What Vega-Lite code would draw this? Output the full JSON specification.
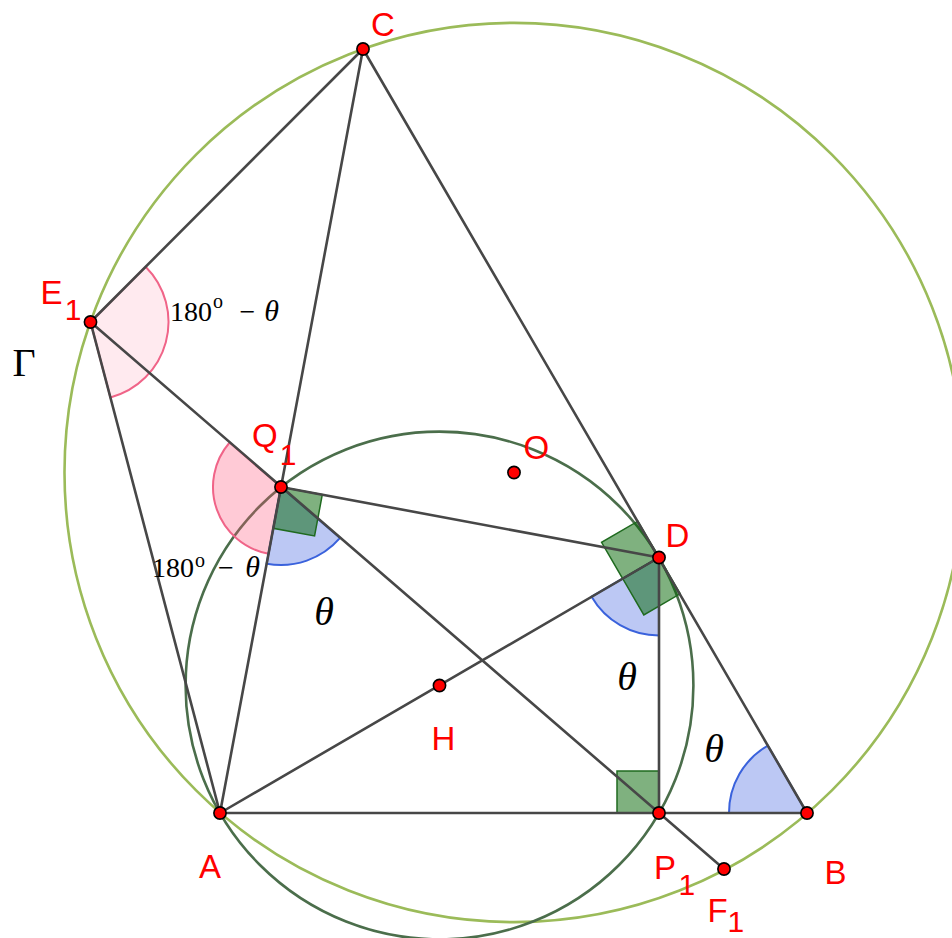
{
  "$schema": "https://vega.github.io/schema/vega-lite/v6.json",
  "width": 952,
  "height": 938,
  "autosize": "none",
  "padding": 0,
  "background": "white",
  "config": {"view": {"stroke": null}},
  "datasets": {
    "bigCircle": [{"x": 2.94, "y": 3.405, "r": 4.495}],
    "smallCircle": [{"x": 2.195, "y": 1.275, "r": 2.539}],
    "anglePinkLight": [{"x": -1.295, "y": 4.91, "t1": 44.95, "t2": 165.22}],
    "anglePink": [{"x": 0.61, "y": 3.26, "t1": 190.6, "t2": 310.9}],
    "angleBlue": [
      {"x": 0.61, "y": 3.26, "t1": 130.77, "t2": 190.6},
      {"x": 4.39, "y": 2.555, "t1": 180, "t2": 239.8},
      {"x": 5.87, "y": 0, "t1": 270, "t2": 329.84}
    ],
    "squares": [
      {"sq": "Q1", "i": 0, "x": 0.61, "y": 3.26},
      {"sq": "Q1", "i": 1, "x": 1.0229, "y": 3.183},
      {"sq": "Q1", "i": 2, "x": 0.9457, "y": 2.7702},
      {"sq": "Q1", "i": 3, "x": 0.5328, "y": 2.8472},
      {"sq": "D1", "i": 0, "x": 4.39, "y": 2.555},
      {"sq": "D1", "i": 1, "x": 4.1787, "y": 2.918},
      {"sq": "D1", "i": 2, "x": 3.8157, "y": 2.7067},
      {"sq": "D1", "i": 3, "x": 4.027, "y": 2.3437},
      {"sq": "D2", "i": 0, "x": 4.39, "y": 2.555},
      {"sq": "D2", "i": 1, "x": 4.6013, "y": 2.192},
      {"sq": "D2", "i": 2, "x": 4.2383, "y": 1.9807},
      {"sq": "D2", "i": 3, "x": 4.027, "y": 2.3437},
      {"sq": "P1", "i": 0, "x": 4.39, "y": 0},
      {"sq": "P1", "i": 1, "x": 3.97, "y": 0},
      {"sq": "P1", "i": 2, "x": 3.97, "y": 0.42},
      {"sq": "P1", "i": 3, "x": 4.39, "y": 0.42}
    ],
    "segments": [
      {"x": 0, "y": 0, "x2": 5.87, "y2": 0},
      {"x": 5.87, "y": 0, "x2": 1.43, "y2": 7.64},
      {"x": 1.43, "y": 7.64, "x2": 0, "y2": 0},
      {"x": 1.43, "y": 7.64, "x2": -1.295, "y2": 4.91},
      {"x": -1.295, "y": 4.91, "x2": 0, "y2": 0},
      {"x": -1.295, "y": 4.91, "x2": 5.04, "y2": -0.56},
      {"x": 0.61, "y": 3.26, "x2": 4.39, "y2": 2.555},
      {"x": 0, "y": 0, "x2": 4.39, "y2": 2.555},
      {"x": 4.39, "y": 2.555, "x2": 4.39, "y2": 0}
    ],
    "points": [
      {"name": "A", "x": 0, "y": 0},
      {"name": "B", "x": 5.87, "y": 0},
      {"name": "C", "x": 1.43, "y": 7.64},
      {"name": "D", "x": 4.39, "y": 2.555},
      {"name": "P1", "x": 4.39, "y": 0},
      {"name": "H", "x": 2.195, "y": 1.275},
      {"name": "Q1", "x": 0.61, "y": 3.26},
      {"name": "E1", "x": -1.295, "y": 4.91},
      {"name": "O", "x": 2.94, "y": 3.405},
      {"name": "F1", "x": 5.04, "y": -0.56}
    ],
    "letters": [
      {"t": "C", "x": 1.51, "y": 7.77},
      {"t": "E", "x": -1.795, "y": 5.09},
      {"t": "Q", "x": 0.32, "y": 3.66},
      {"t": "O", "x": 3.035, "y": 3.54},
      {"t": "D", "x": 4.455, "y": 2.66},
      {"t": "H", "x": 2.115, "y": 0.63},
      {"t": "A", "x": -0.21, "y": -0.65},
      {"t": "P", "x": 4.34, "y": -0.66},
      {"t": "B", "x": 6.045, "y": -0.71},
      {"t": "F", "x": 4.875, "y": -1.09}
    ],
    "subs": [
      {"t": "1", "x": -1.553, "y": 4.93},
      {"t": "1", "x": 0.597, "y": 3.48},
      {"t": "1", "x": 4.584, "y": -0.82},
      {"t": "1", "x": 5.074, "y": -1.19}
    ],
    "serifUpright": [
      {"t": "180", "x": -0.29, "y": 4.92},
      {"t": "−", "x": 0.275, "y": 4.92},
      {"t": "180", "x": -0.47, "y": 2.36},
      {"t": "−", "x": 0.06, "y": 2.36}
    ],
    "serifSup": [
      {"t": "o", "x": -0.02, "y": 5.05},
      {"t": "o", "x": -0.2, "y": 2.463}
    ],
    "thetaSmall": [
      {"t": "θ", "x": 0.515, "y": 4.92},
      {"t": "θ", "x": 0.325, "y": 2.36}
    ],
    "thetaBig": [
      {"t": "θ", "x": 1.04, "y": 1.88},
      {"t": "θ", "x": 4.07, "y": 1.23},
      {"t": "θ", "x": 4.94, "y": 0.513}
    ],
    "gamma": [{"t": "Γ", "x": -1.96, "y": 4.37}]
  },
  "encoding": {
    "x": {"field": "x", "type": "quantitative", "axis": null, "scale": {"domain": [-2.2, 7.32], "nice": false, "zero": false}},
    "y": {"field": "y", "type": "quantitative", "axis": null, "scale": {"domain": [-1.25, 8.13], "nice": false, "zero": false}}
  },
  "layer": [
    {
      "data": {"name": "bigCircle"},
      "mark": {"type": "point", "shape": "circle", "filled": false, "stroke": "#9bbb59", "strokeWidth": 2.6, "opacity": 1},
      "encoding": {"size": {"field": "r", "type": "quantitative", "legend": null, "scale": {"type": "pow", "exponent": 2, "domain": [0, 5], "range": [0, 1000000]}}}
    },
    {
      "data": {"name": "smallCircle"},
      "mark": {"type": "point", "shape": "circle", "filled": false, "stroke": "#4b6e4b", "strokeWidth": 2.6, "opacity": 1},
      "encoding": {"size": {"field": "r", "type": "quantitative", "legend": null, "scale": {"type": "pow", "exponent": 2, "domain": [0, 5], "range": [0, 1000000]}}}
    },
    {
      "data": {"name": "anglePinkLight"},
      "mark": {"type": "arc", "radius": 78, "fill": "#ff5078", "fillOpacity": 0.12, "stroke": "#f06488", "strokeWidth": 2},
      "encoding": {
        "theta": {"field": "t1", "type": "quantitative", "stack": null, "scale": {"domain": [0, 360], "range": [0, 6.283185307179586]}},
        "theta2": {"field": "t2"}
      }
    },
    {
      "data": {"name": "anglePink"},
      "mark": {"type": "arc", "radius": 68, "fill": "#ff5078", "fillOpacity": 0.3, "stroke": "#f06488", "strokeWidth": 2},
      "encoding": {
        "theta": {"field": "t1", "type": "quantitative", "stack": null, "scale": {"domain": [0, 360], "range": [0, 6.283185307179586]}},
        "theta2": {"field": "t2"}
      }
    },
    {
      "data": {"name": "angleBlue"},
      "mark": {"type": "arc", "radius": 78, "fill": "#4060e0", "fillOpacity": 0.35, "stroke": "#3a62dc", "strokeWidth": 2},
      "encoding": {
        "theta": {"field": "t1", "type": "quantitative", "stack": null, "scale": {"domain": [0, 360], "range": [0, 6.283185307179586]}},
        "theta2": {"field": "t2"}
      }
    },
    {
      "data": {"name": "squares"},
      "mark": {"type": "line", "interpolate": "linear-closed", "fill": "#006400", "fillOpacity": 0.5, "stroke": "#1f6a1f", "strokeWidth": 1.5},
      "encoding": {
        "detail": {"field": "sq", "type": "nominal"},
        "order": {"field": "i", "type": "quantitative"}
      }
    },
    {
      "data": {"name": "segments"},
      "mark": {"type": "rule", "color": "#474747", "strokeWidth": 2.6, "strokeCap": "round"},
      "encoding": {"x2": {"field": "x2"}, "y2": {"field": "y2"}}
    },
    {
      "data": {"name": "points"},
      "mark": {"type": "point", "shape": "circle", "filled": true, "fill": "#ff0000", "stroke": "#000000", "strokeWidth": 1.6, "size": 150, "opacity": 1}
    },
    {
      "data": {"name": "letters"},
      "mark": {"type": "text", "font": "Liberation Sans", "fontSize": 33, "color": "#ff0000", "align": "left", "baseline": "alphabetic"},
      "encoding": {"text": {"field": "t"}}
    },
    {
      "data": {"name": "subs"},
      "mark": {"type": "text", "font": "Liberation Sans", "fontSize": 30, "color": "#ff0000", "align": "left", "baseline": "alphabetic"},
      "encoding": {"text": {"field": "t"}}
    },
    {
      "data": {"name": "serifUpright"},
      "mark": {"type": "text", "font": "Liberation Serif", "fontSize": 28, "color": "#000000", "align": "center", "baseline": "alphabetic"},
      "encoding": {"text": {"field": "t"}}
    },
    {
      "data": {"name": "serifSup"},
      "mark": {"type": "text", "font": "Liberation Serif", "fontSize": 20, "color": "#000000", "align": "center", "baseline": "alphabetic"},
      "encoding": {"text": {"field": "t"}}
    },
    {
      "data": {"name": "thetaSmall"},
      "mark": {"type": "text", "font": "Liberation Serif", "fontStyle": "italic", "fontSize": 30, "color": "#000000", "align": "center", "baseline": "alphabetic"},
      "encoding": {"text": {"field": "t"}}
    },
    {
      "data": {"name": "thetaBig"},
      "mark": {"type": "text", "font": "Liberation Serif", "fontStyle": "italic", "fontSize": 40, "color": "#000000", "align": "center", "baseline": "alphabetic"},
      "encoding": {"text": {"field": "t"}}
    },
    {
      "data": {"name": "gamma"},
      "mark": {"type": "text", "font": "Liberation Serif", "fontSize": 40, "color": "#000000", "align": "center", "baseline": "alphabetic"},
      "encoding": {"text": {"field": "t"}}
    }
  ]
}
